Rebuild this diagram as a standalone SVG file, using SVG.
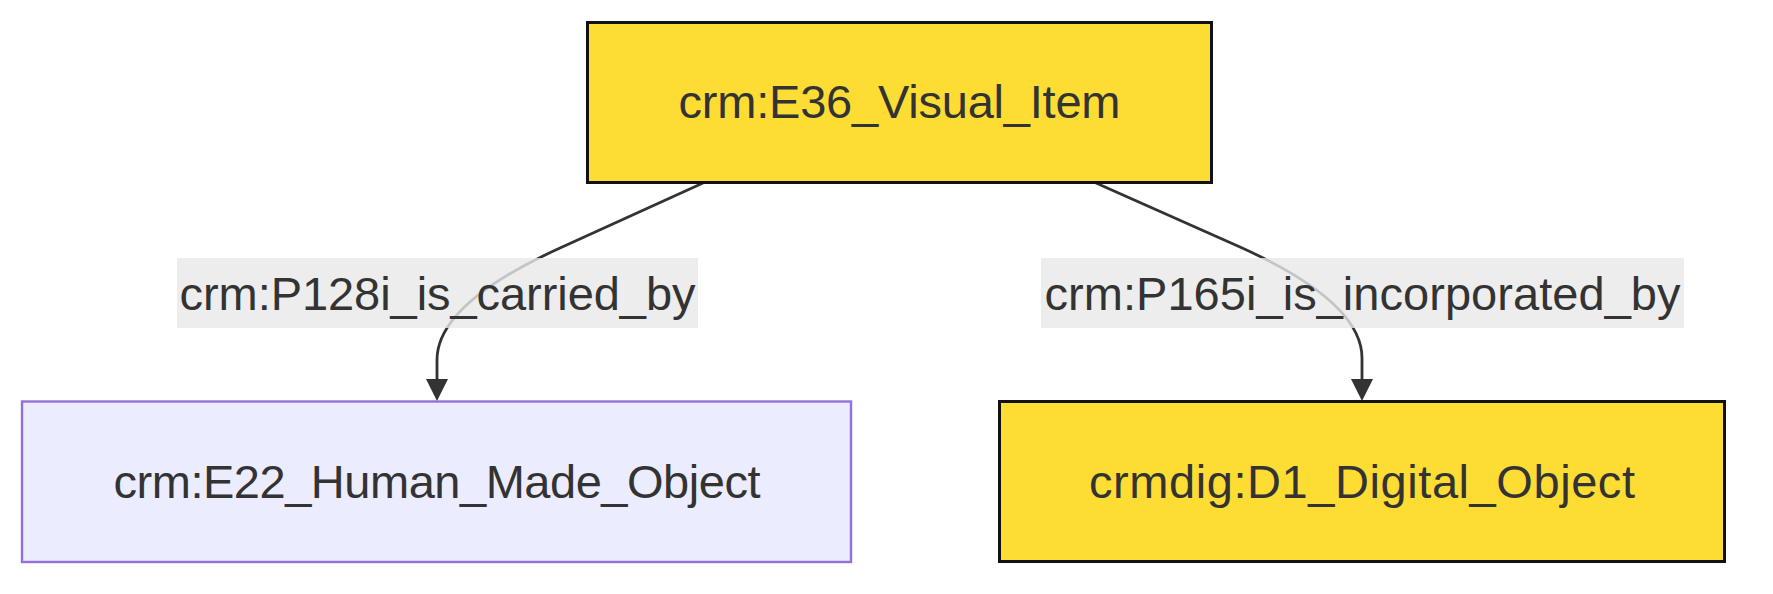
<svg xmlns="http://www.w3.org/2000/svg" width="1773" height="594" viewBox="0 0 1773 594">
<style>
.yel{fill:#FDDD33;stroke:#111111;stroke-width:3}
.lav{fill:#ECECFF;stroke:#9370DB;stroke-width:2.4}
.lbl{font-family:"Liberation Sans",Arial,sans-serif;font-size:47px;fill:#333333;text-anchor:middle}
.edge{fill:none;stroke:#333333;stroke-width:2.8}
.ebg{fill:#E8E8E8;fill-opacity:0.8}
</style>
<defs>
<marker id="arrow" viewBox="0 0 10 10" refX="5" refY="5" markerUnits="userSpaceOnUse" markerWidth="22" markerHeight="22" orient="auto">
<path d="M0,0 L10,5 L0,10 z" fill="#333333"/>
</marker>
</defs>
<rect width="1773" height="594" fill="#FFFFFF"/>
<g id="connectors">
<path class="edge" d="M703,183 L560,248 Q437,304 437,360 L437,390" marker-end="url(#arrow)"/>
<path class="edge" d="M1096,183 L1240,247 Q1362,302 1362,358 L1362,390" marker-end="url(#arrow)"/>
</g>
<g id="edge-label-1">
<rect class="ebg" x="177" y="258" width="521" height="70"/>
<text class="lbl" x="437.5" y="310" textLength="516">crm:P128i_is_carried_by</text>
</g>
<g id="edge-label-2">
<rect class="ebg" x="1041" y="258" width="643" height="70"/>
<text class="lbl" x="1362.5" y="310" textLength="636">crm:P165i_is_incorporated_by</text>
</g>
<g id="node-E36">
<rect class="yel" x="587.5" y="22.5" width="624" height="160"/>
<text class="lbl" x="899.5" y="118" textLength="442">crm:E36_Visual_Item</text>
</g>
<g id="node-E22">
<rect class="lav" x="22" y="401.5" width="829" height="160.5"/>
<text class="lbl" x="437" y="498" textLength="647">crm:E22_Human_Made_Object</text>
</g>
<g id="node-D1">
<rect class="yel" x="999.5" y="401.5" width="725" height="160"/>
<text class="lbl" x="1362" y="498" textLength="546">crmdig:D1_Digital_Object</text>
</g>
</svg>
